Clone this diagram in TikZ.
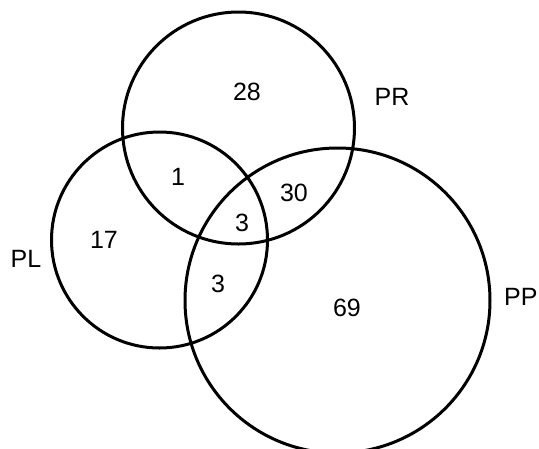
\documentclass[tikz,border=0pt]{standalone}
\usepackage{fontspec}
\setmainfont{Liberation Sans}

\begin{document}
\begin{tikzpicture}[x=1pt, y=-1pt,
        set/.style={circle, draw, line width=3pt, inner sep=0pt},
        num/.style={font=\fontsize{25}{30}\selectfont, inner sep=0pt}]

      \useasboundingbox (0,0) rectangle (539,448);

      % sets
      \node[set, minimum size=232pt] (pr) at (238.5,128) {};
      \node[set, minimum size=216pt] (pl) at (159.5,240) {};
      \node[set, minimum size=305pt] (pp) at (337.5,300.5) {};

      % set names
      \node[num] (prname) at (392,97) {PR};
      \node[num] (plname) at (26,259) {PL};
      \node[num, anchor=west] (ppname) at (504,297) {PP};

      % counts
      \node[num] (nr) at (247,92) {28};
      \node[num] (nlr) at (178,177) {1};
      \node[num] (nrp) at (294,193) {30};
      \node[num] (nall) at (242,223) {3};
      \node[num] (nl) at (104,240) {17};
      \node[num] (nlp) at (218,284) {3};
      \node[num] (np) at (347,308) {69};
    \end{tikzpicture}
\end{document}
